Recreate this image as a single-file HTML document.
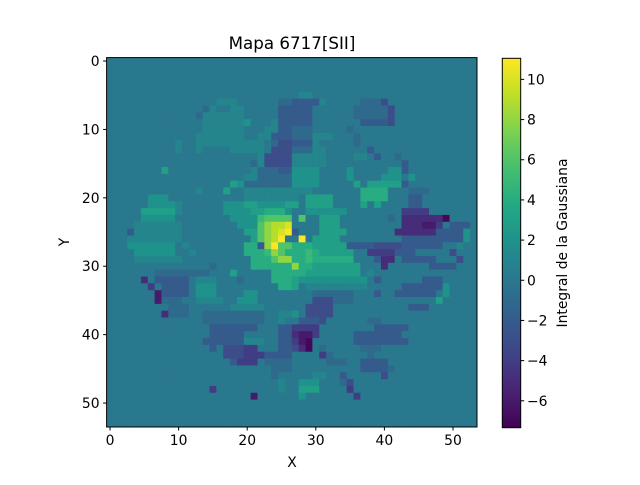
<!DOCTYPE html>
<html><head><meta charset="utf-8">
<style>
body{margin:0;background:#fff;}
svg text{font-family:"DejaVu Sans","Liberation Sans",sans-serif;fill:#000;}
</style></head>
<body>
<svg id="chart" width="640" height="480" viewBox="0 0 640 480" xmlns="http://www.w3.org/2000/svg">
<rect width="640" height="480" fill="#fff"/>
<text x="292" y="49" font-size="16.7" text-anchor="middle">Mapa 6717[SII]</text>
<g id="cells"></g>
<g id="axes"></g>
<text x="292" y="467" font-size="13.9" text-anchor="middle">X</text>
<text x="69" y="242" font-size="13.9" text-anchor="middle" transform="rotate(-90 69 242)">Y</text>
<defs><linearGradient id="cbgrad" x1="0" y1="1" x2="0" y2="0"></linearGradient></defs>
<rect x="502.3" y="58.3" width="18.4" height="369.4" fill="url(#cbgrad)" stroke="#000" stroke-width="1"/>
<g id="cbaxis"></g>
<text x="567" y="243" font-size="13.9" text-anchor="middle" transform="rotate(-90 567 243)">Integral de la Gaussiana</text>
</svg>
<script>
// grid size and value range
const nRows = 54;
const nCols = 54;
const vMin = -7.34;
const vMax = 11.05;
const background = 0;
const xTicks = [0,10,20,30,40,50];
const yTicks = [0,10,20,30,40,50];
const cbTicks = [-6,-4,-2,0,2,4,6,8,10];
// patches: [row, colStart, colEnd, level]; level char: 'H'=0, each letter +/-1
const patches = [
[5,28,29,'I'],
[6,16,18,'I'],[6,25,26,'G'],[6,27,30,'F'],[6,31,31,'I'],[6,37,39,'G'],[6,40,40,'E'],
[7,14,14,'G'],[7,15,15,'I'],[7,18,19,'I'],[7,25,29,'F'],[7,36,40,'G'],[7,41,41,'E'],
[8,13,13,'G'],[8,14,19,'I'],[8,25,29,'F'],[8,36,40,'G'],[8,41,41,'E'],
[9,14,19,'I'],[9,20,20,'J'],[9,24,24,'I'],[9,25,29,'F'],[9,37,40,'F'],[9,41,41,'E'],
[10,14,19,'I'],[10,23,24,'I'],[10,25,26,'F'],[10,27,29,'G'],[10,35,35,'G'],
[11,13,19,'I'],[11,22,23,'I'],[11,24,26,'F'],[11,27,29,'G'],[11,30,32,'I'],[11,36,36,'G'],
[12,10,10,'I'],[12,13,22,'I'],[12,24,24,'G'],[12,25,26,'E'],[12,27,29,'F'],[12,30,30,'I'],[12,36,36,'G'],
[13,10,10,'I'],[13,13,13,'I'],[13,18,22,'I'],[13,24,26,'E'],[13,27,29,'G'],[13,30,31,'I'],[13,38,38,'F'],
[14,22,22,'I'],[14,23,26,'E'],[14,27,31,'I'],[14,36,37,'I'],[14,39,39,'F'],[14,42,42,'G'],
[15,21,21,'G'],[15,22,22,'I'],[15,23,26,'E'],[15,27,31,'I'],[15,43,43,'F'],
[16,8,8,'K'],[16,21,21,'I'],[16,22,24,'G'],[16,25,26,'F'],[16,27,30,'J'],[16,35,35,'J'],[16,41,42,'J'],[16,43,43,'F'],
[17,20,21,'I'],[17,22,26,'G'],[17,27,30,'J'],[17,35,35,'J'],[17,40,42,'J'],[17,44,44,'J'],
[18,18,18,'K'],[18,19,19,'J'],[18,20,26,'G'],[18,27,30,'J'],[18,36,36,'K'],[18,38,42,'K'],[18,43,43,'F'],
[19,13,13,'I'],[19,17,17,'K'],[19,20,26,'I'],[19,27,29,'I'],[19,37,40,'L'],[19,44,46,'G'],
[20,6,8,'J'],[20,20,26,'I'],[20,27,27,'I'],[20,29,32,'K'],[20,37,40,'L'],[20,44,45,'F'],
[21,6,9,'J'],[21,10,10,'I'],[21,17,19,'J'],[21,20,21,'K'],[21,22,25,'J'],[21,26,27,'K'],[21,29,32,'K'],[21,37,37,'K'],[21,39,39,'K'],[21,44,45,'F'],
[22,5,9,'K'],[22,10,10,'I'],[22,17,20,'J'],[22,21,22,'K'],[22,23,25,'L'],[22,26,26,'J'],[22,29,34,'J'],[22,43,46,'D'],
[23,5,9,'J'],[23,18,21,'J'],[23,22,22,'M'],[23,23,26,'N'],[23,28,28,'N'],[23,31,33,'K'],[23,41,41,'G'],[23,43,48,'C'],[23,49,49,'A'],
[24,4,10,'I'],[24,19,21,'J'],[24,22,22,'N'],[24,23,23,'P'],[24,24,25,'Q'],[24,26,26,'R'],[24,31,33,'K'],[24,43,45,'C'],[24,46,47,'B'],[24,48,48,'D'],[24,50,52,'F'],
[25,3,3,'F'],[25,4,10,'I'],[25,20,21,'K'],[25,22,22,'N'],[25,23,23,'P'],[25,24,24,'Q'],[25,25,25,'R'],[25,26,26,'S'],[25,27,27,'F'],[25,31,34,'K'],[25,42,47,'C'],[25,48,51,'F'],[25,52,52,'J'],
[26,3,10,'I'],[26,21,21,'K'],[26,22,22,'N'],[26,23,23,'P'],[26,24,24,'Q'],[26,25,25,'S'],[26,28,28,'S'],[26,30,33,'K'],[26,43,51,'F'],[26,52,52,'J'],
[27,3,9,'J'],[27,11,11,'I'],[27,20,21,'L'],[27,22,22,'F'],[27,23,23,'P'],[27,24,24,'S'],[27,25,26,'N'],[27,27,29,'L'],[27,30,34,'K'],[27,35,38,'F'],[27,39,42,'E'],[27,43,48,'F'],[27,51,51,'I'],
[28,4,9,'J'],[28,12,12,'I'],[28,20,22,'L'],[28,23,23,'M'],[28,24,24,'P'],[28,25,25,'N'],[28,26,28,'L'],[28,29,29,'M'],[28,30,30,'L'],[28,31,35,'K'],[28,38,41,'D'],[28,42,44,'F'],[28,50,50,'E'],
[29,4,10,'I'],[29,21,23,'L'],[29,24,24,'N'],[29,25,26,'P'],[29,27,28,'L'],[29,29,29,'M'],[29,30,35,'L'],[29,39,39,'F'],[29,40,41,'C'],[29,43,47,'F'],[29,51,51,'E'],
[30,15,15,'G'],[30,21,26,'L'],[30,27,27,'P'],[30,28,29,'L'],[30,30,36,'K'],[30,40,40,'C'],[30,47,50,'F'],
[31,7,14,'G'],[31,18,18,'K'],[31,24,26,'L'],[31,27,28,'L'],[31,29,36,'K'],[31,38,38,'I'],
[32,5,5,'C'],[32,7,11,'F'],[32,13,15,'I'],[32,19,19,'G'],[32,24,26,'L'],[32,27,27,'K'],[32,28,37,'J'],[32,39,39,'F'],[32,46,48,'F'],
[33,6,6,'D'],[33,8,11,'F'],[33,13,15,'J'],[33,25,26,'L'],[33,27,27,'K'],[33,29,37,'I'],[33,43,48,'F'],[33,49,49,'J'],
[34,7,7,'B'],[34,8,11,'F'],[34,13,15,'J'],[34,20,21,'J'],[34,30,35,'G'],[34,39,39,'F'],[34,42,47,'F'],[34,49,49,'J'],
[35,7,7,'B'],[35,8,10,'G'],[35,13,16,'I'],[35,19,21,'J'],[35,30,32,'E'],[35,33,35,'G'],[35,48,48,'K'],
[36,9,11,'G'],[36,18,22,'I'],[36,29,32,'E'],[36,44,46,'F'],
[37,8,8,'C'],[37,9,11,'G'],[37,14,22,'G'],[37,25,26,'I'],[37,27,27,'J'],[37,29,32,'E'],
[38,14,22,'G'],[38,25,25,'I'],[38,28,30,'F'],[38,31,31,'E'],[38,38,39,'G'],
[39,15,21,'F'],[39,25,26,'F'],[39,27,30,'D'],[39,39,43,'F'],
[40,15,19,'F'],[40,25,26,'F'],[40,27,27,'C'],[40,28,29,'B'],[40,30,30,'D'],[40,36,42,'F'],
[41,14,19,'F'],[41,20,22,'I'],[41,25,26,'F'],[41,27,27,'D'],[41,28,28,'B'],[41,29,29,'A'],[41,36,43,'F'],
[42,15,15,'F'],[42,17,19,'E'],[42,20,21,'D'],[42,25,26,'F'],[42,27,27,'E'],[42,28,28,'C'],[42,29,29,'A'],[42,31,31,'G'],[42,37,39,'G'],
[43,17,19,'E'],[43,20,22,'D'],[43,23,26,'F'],[43,31,31,'D'],[43,32,32,'G'],[43,38,38,'G'],
[44,18,18,'F'],[44,19,21,'D'],[44,23,26,'G'],[44,32,34,'G'],[44,37,40,'F'],
[45,24,26,'G'],[45,37,40,'F'],[45,41,41,'G'],
[46,24,24,'G'],[46,30,31,'I'],[46,34,34,'F'],[46,40,40,'E'],
[47,25,25,'I'],[47,28,30,'J'],[47,34,34,'G'],[47,35,35,'E'],
[48,15,15,'D'],[48,25,25,'I'],[48,28,30,'K'],[48,35,35,'D'],
[49,21,21,'B'],[49,28,28,'J'],[49,36,36,'D']
];

const NS='http://www.w3.org/2000/svg';
const X0=106.6, X1=477.0, Y0=57.6, Y1=427.0;
const cw=(X1-X0)/nCols, ch=(Y1-Y0)/nRows;
function xScale(c){return X0+(c+0.5)*cw;}
function yScale(r){return Y0+(r+0.5)*ch;}
const CB0=427.7, CB1=58.3;
function cbScale(v){return CB0+(v-vMin)/(vMax-vMin)*(CB1-CB0);}
const vir=[[68,1,84],[72,35,116],[64,67,135],[52,94,141],[41,120,142],[32,144,141],[34,168,132],[68,191,112],[122,209,81],[189,223,38],[253,231,37]];
function viridis(t){t=Math.max(0,Math.min(1,t));const p=t*(vir.length-1);const i=Math.min(vir.length-2,Math.floor(p));const f=p-i;
const c=vir[i].map((a,k)=>Math.round(a+(vir[i+1][k]-a)*f));return 'rgb('+c.join(',')+')';}
function color(v){return viridis((v-vMin)/(vMax-vMin));}

const grid=[];
for(let r=0;r<nRows;r++){grid.push(new Array(nCols).fill(background));}
patches.forEach(p=>{for(let c=p[1];c<=p[2];c++){grid[p[0]][c]=p[3].charCodeAt(0)-72;}});

const g=document.getElementById('cells');
for(let r=0;r<nRows;r++){for(let c=0;c<nCols;c++){
 const rect=document.createElementNS(NS,'rect');
 
 
 rect.setAttribute('x',(xScale(c)-cw/2).toFixed(2));
 rect.setAttribute('y',(yScale(r)-ch/2).toFixed(2));
 rect.setAttribute('width',(cw+0.4).toFixed(2));
 rect.setAttribute('height',(ch+0.4).toFixed(2));
 rect.setAttribute('fill',color(grid[r][c]));
 g.appendChild(rect);
}}

const ax=document.getElementById('axes');
const frame=document.createElementNS(NS,'rect');


frame.setAttribute('x',X0);frame.setAttribute('y',Y0);frame.setAttribute('width',X1-X0);frame.setAttribute('height',Y1-Y0);
frame.setAttribute('fill','none');frame.setAttribute('stroke','#000');frame.setAttribute('stroke-width','1');
ax.appendChild(frame);
xTicks.forEach(t=>{
 const px=xScale(t);
 const l=document.createElementNS(NS,'line');
 
 
 l.setAttribute('x1',px);l.setAttribute('x2',px);l.setAttribute('y1',Y1);l.setAttribute('y2',Y1+3.5);l.setAttribute('stroke','#000');
 ax.appendChild(l);
 const tx=document.createElementNS(NS,'text');
 
 
 tx.setAttribute('x',px);tx.setAttribute('y',Y1+18);tx.setAttribute('font-size','13.9');tx.setAttribute('text-anchor','middle');
 tx.textContent=t;ax.appendChild(tx);
});
yTicks.forEach(t=>{
 const py=yScale(t);
 const l=document.createElementNS(NS,'line');
 
 
 l.setAttribute('x1',X0-3.5);l.setAttribute('x2',X0);l.setAttribute('y1',py);l.setAttribute('y2',py);l.setAttribute('stroke','#000');
 ax.appendChild(l);
 const tx=document.createElementNS(NS,'text');
 
 
 tx.setAttribute('x',X0-7);tx.setAttribute('y',py+5);tx.setAttribute('font-size','13.9');tx.setAttribute('text-anchor','end');
 tx.textContent=t;ax.appendChild(tx);
});
const grad=document.getElementById('cbgrad');
for(let i=0;i<=20;i++){const s=document.createElementNS(NS,'stop');s.setAttribute('offset',(i/20));s.setAttribute('stop-color',viridis(i/20));grad.appendChild(s);}
const cba=document.getElementById('cbaxis');
cbTicks.forEach(t=>{
 const py=cbScale(t);
 const l=document.createElementNS(NS,'line');
 
 
 l.setAttribute('x1',520.7);l.setAttribute('x2',524.2);l.setAttribute('y1',py);l.setAttribute('y2',py);l.setAttribute('stroke','#000');
 cba.appendChild(l);
 const tx=document.createElementNS(NS,'text');
 
 
 tx.setAttribute('x',527);tx.setAttribute('y',py+5);tx.setAttribute('font-size','13.9');
 tx.textContent=(t<0?'\u2212'+(-t):t);cba.appendChild(tx);
});
</script>
</body></html>
